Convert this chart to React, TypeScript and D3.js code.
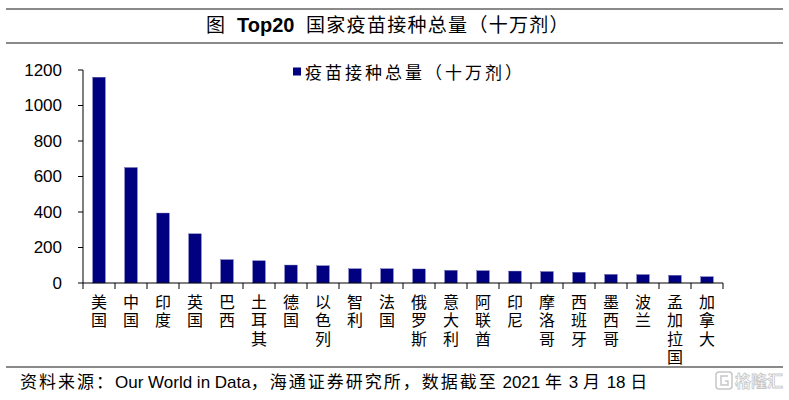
import * as d3 from 'd3';

const countries = ['美国', '中国', '印度', '英国', '巴西', '土耳其', '德国', '以色列', '智利', '法国',
  '俄罗斯', '意大利', '阿联酋', '印尼', '摩洛哥', '西班牙', '墨西哥', '波兰', '孟加拉国', '加拿大'];
const doses = [1159, 650, 394, 277, 131, 125, 101, 97, 80, 80, 79, 71, 69, 67, 64, 60, 48, 47, 43, 35];
const yTicks = [0, 200, 400, 600, 800, 1000, 1200];
const seriesName = '疫苗接种总量（十万剂）';
const sourceParts = [
  { t: '资料来源：', cjk: true },
  { t: 'Our World in Data', cjk: false },
  { t: '，海通证券研究所，数据截至', cjk: true },
  { t: ' 2021 ', cjk: false },
  { t: '年', cjk: true },
  { t: ' 3 ', cjk: false },
  { t: '月', cjk: true },
  { t: ' 18 ', cjk: false },
  { t: '日', cjk: true },
];

const W = 789;
const H = 400;
const left = 83;
const right = 723;
const top = 70;
const bottom = 283;
const CJK = '"Noto Sans CJK SC", sans-serif';
const LAT = '"Liberation Sans", Arial, "Noto Sans CJK SC", sans-serif';
const NAVY = '#000080';

export default function App() {
  const slot = d3.scaleBand<string>().domain(countries).range([left, right]).padding(0);
  const x = d3.scaleBand<string>().domain(countries).range([left, right])
    .paddingInner(0.61).paddingOuter(0.305);
  const y = d3.scaleLinear().domain([0, 1200]).range([bottom, top]);
  const step = slot.step();

  return (
    <svg width={W} height={H} viewBox={`0 0 ${W} ${H}`}
      style={{ position: 'absolute', left: 0, top: 0, background: '#fff' }}>
      {/* title bar */}
      <line x1={6} x2={783} y1={9} y2={9} stroke="#8a8a8a" strokeWidth={2} />
      <line x1={6} x2={783} y1={43} y2={43} stroke="#8a8a8a" strokeWidth={2} />
      <text y={32} fill="#000">
        <tspan x={206} fontFamily={CJK} fontSize={19}>图</tspan>
        <tspan x={237} fontFamily={LAT} fontSize={20} fontWeight="bold">Top20</tspan>
        <tspan x={306} fontFamily={CJK} fontSize={19} letterSpacing={1.3}>国家疫苗接种总量（十万剂）</tspan>
      </text>

      {/* y axis */}
      <line x1={left} x2={left} y1={top} y2={bottom} stroke="#000" />
      {yTicks.map(t => (
        <g key={t}>
          <line x1={left - 5} x2={left} y1={y(t)} y2={y(t)} stroke="#000" />
          <text x={62} y={y(t)} textAnchor="end" dominantBaseline="central"
            fontFamily={LAT} fontSize={17} fill="#000">{t}</text>
        </g>
      ))}

      {/* bars */}
      {countries.map((c, i) => (
        <rect key={c} x={x(c)} y={y(doses[i])} width={x.bandwidth()}
          height={y(0) - y(doses[i])} fill={NAVY} stroke="#4b4ba0" strokeWidth={0.4} />
      ))}

      {/* x axis */}
      <line x1={left} x2={right} y1={bottom} y2={bottom} stroke="#000" />
      {d3.range(countries.length + 1).map(i => (
        <line key={i} x1={left + i * step} x2={left + i * step} y1={bottom} y2={bottom + 6} stroke="#000" />
      ))}
      {countries.map(c => (
        <text key={c} x={(slot(c) as number) + step / 2} y={293.5}
          fontFamily={CJK} fontSize={16} fill="#000" letterSpacing={2.5}
          style={{ writingMode: 'vertical-rl', textOrientation: 'upright' } as any}>
          {c}
        </text>
      ))}

      {/* legend */}
      <rect x={293} y={67.5} width={8} height={8} fill={NAVY} />
      <text x={305} y={71.5} dominantBaseline="central" fontFamily={CJK} fontSize={17}
        letterSpacing={3} fill="#000">{seriesName}</text>

      {/* source */}
      <line x1={6} x2={783} y1={367} y2={367} stroke="#8a8a8a" strokeWidth={2} />
      <text x={20} y={388} fontFamily={LAT} fontSize={17} fill="#000" style={{ whiteSpace: 'pre' }}>
        {sourceParts.map((p, i) => (
          <tspan key={i} fontFamily={p.cjk ? CJK : LAT} letterSpacing={p.cjk ? 2 : 0}>{p.t}</tspan>
        ))}
      </text>

      {/* watermark */}
      <g opacity={0.55}>
        <rect x={716} y={372} width={16} height={17} rx={3} fill="none" stroke="#9a9a9a" strokeWidth={1.5} />
        <path d="M728 376 H721 V385 H728 V381 H725" fill="none" stroke="#9a9a9a" strokeWidth={1.5} />
        <text x={735} y={387} fontFamily={CJK} fontSize={16} fontWeight="bold" fill="#fff"
          stroke="#9a9a9a" strokeWidth={0.8}>格隆汇</text>
      </g>
    </svg>
  );
}
